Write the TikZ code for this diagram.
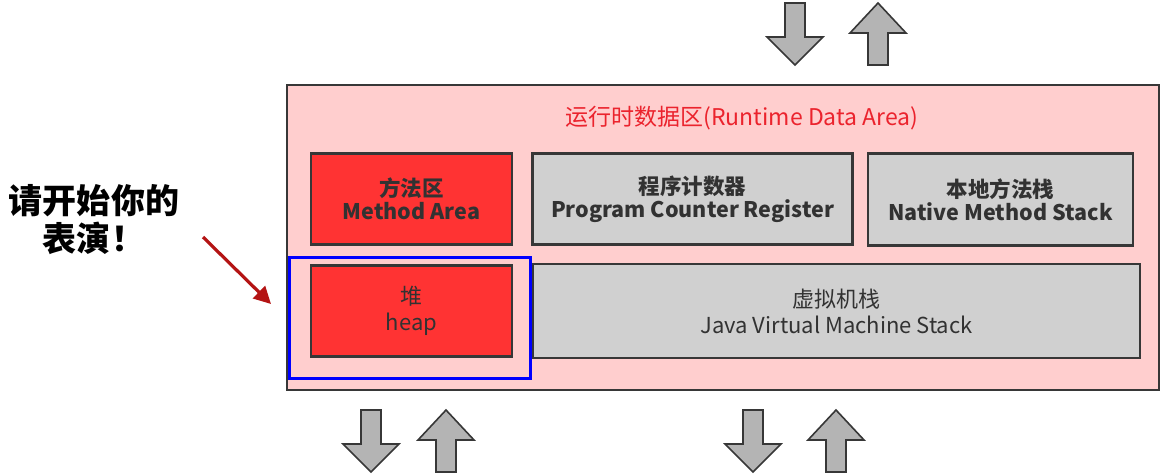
\documentclass[tikz,border=0pt]{standalone}
\usepackage{fontspec}
\setmainfont{Noto Sans CJK SC}
\newfontfamily\cjk{Noto Sans CJK SC}
\usetikzlibrary{arrows.meta}
\definecolor{areapink}{RGB}{255,206,206}
\definecolor{boxred}{RGB}{255,51,51}
\definecolor{boxgray}{RGB}{208,208,208}
\definecolor{edgegray}{RGB}{55,55,55}
\definecolor{txtgray}{RGB}{50,50,50}
\definecolor{titlered}{RGB}{235,35,45}
\definecolor{arrgray}{RGB}{180,180,180}
\definecolor{pointred}{RGB}{180,20,20}
\tikzset{
  membox/.style={draw=edgegray, line width=2.4pt, inner sep=0pt, align=center,
    text=txtgray, font=\cjk\bfseries\fontsize{21.5}{23}\selectfont},
  redbox/.style={membox, fill=boxred},
  graybox/.style={membox, fill=boxgray},
  lowtext/.style={font=\cjk\fontsize{22}{26}\selectfont},
  bigarrow/.style={fill=arrgray, draw=edgegray, line width=1.6pt, line join=miter},
  pics/downarr/.style={code={
    \draw[bigarrow] (-10,0) -- (10,0) -- (10,34) -- (28,34) -- (0,62) -- (-28,34) -- (-10,34) -- cycle;}},
  pics/uparr/.style={code={
    \draw[bigarrow] (-10,62) -- (10,62) -- (10,30) -- (28,30) -- (0,0) -- (-28,30) -- (-10,30) -- cycle;}},
}
\begin{document}
\begin{tikzpicture}[x=1pt,y=-1pt]
\path[use as bounding box, fill=white] (0,0) rectangle (1166,474);
% outer runtime data area
\node[draw=edgegray, fill=areapink, line width=2pt, minimum width=872pt, minimum height=305pt, inner sep=0pt] (rda) at (723,237.5) {};
\node[text=titlered, font=\cjk\fontsize{23}{26}\selectfont] (title) at (742,118) {运行时数据区(Runtime Data Area)};
% upper row
\node[redbox, minimum width=201pt, minimum height=91pt] (method) at (411.5,199) {方法区\\Method Area};
\node[graybox, minimum width=320pt, minimum height=91pt] (pc) at (692.5,199) {程序计数器\\Program Counter Register};
\node[graybox, minimum width=265pt, minimum height=92pt] (native) at (1000.5,199.5) {本地方法栈\\Native Method Stack};
% lower row
\node[redbox, lowtext, minimum width=201pt, minimum height=91pt] (heap) at (411.5,311) {堆\\heap};
\node[graybox, lowtext, minimum width=607pt, minimum height=94pt] (jvm) at (836.5,311) {虚拟机栈\\Java Virtual Machine Stack};
% blue highlight
\node[draw=blue, line width=3pt, minimum width=241pt, minimum height=121pt, inner sep=0pt] (hl) at (409.5,318) {};
% caption
\node[font=\cjk\bfseries\fontsize{34}{38}\selectfont, align=center, text=black] (cap) at (94,220) {请开始你的\\表演！};
% pointer arrow
\coordinate (ps) at (203,237);
\coordinate (pe) at (271,304);
\draw[pointred, line width=3.2pt, -{Triangle[length=17pt,width=17pt]}] (ps) -- (pe);
% big arrows
\pic (td) at (795,3) {downarr};
\pic (tu) at (878,3) {uparr};
\pic (bd1) at (371,410) {downarr};
\pic (bu1) at (446,410) {uparr};
\pic (bd2) at (753,410) {downarr};
\pic (bu2) at (836,410) {uparr};
\end{tikzpicture}
\end{document}
